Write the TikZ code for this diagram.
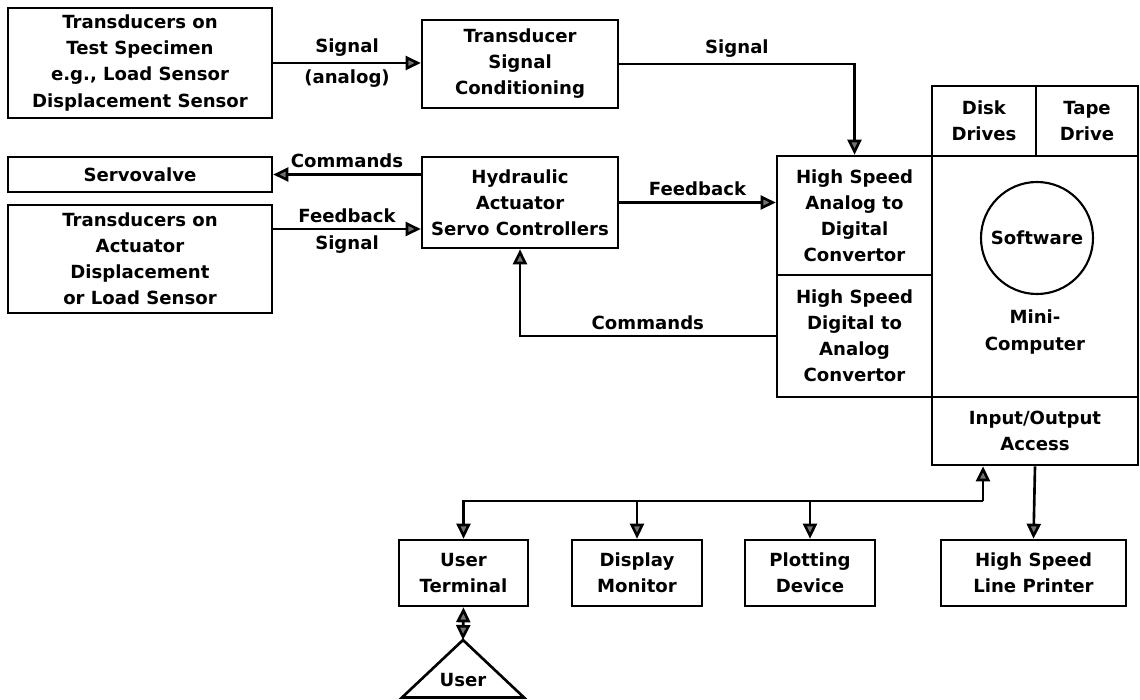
\documentclass[tikz,border=0pt]{standalone}
\usepackage{fontspec}
\setmainfont{DejaVu Sans}
\usetikzlibrary{arrows.meta}

\begin{document}
\begin{tikzpicture}[
	font=\bfseries\fontsize{10.3}{14.8}\selectfont,
	>={Triangle[length=3mm,width=2.8mm,fill=black!55]},
	blk/.style={draw,line width=1.5pt,align=center,inner sep=0pt},
	arr/.style={line width=1.5pt,->},
	lbl/.style={inner sep=3pt}
	]
	\useasboundingbox (0,0) rectangle (22.8,-14);
	% left column
	\node[blk,minimum width=5.28cm,minimum height=2.2cm] (spec) at (2.8,-1.26) {Transducers on\\Test Specimen\\e.g., Load Sensor\\Displacement Sensor};
	\node[blk,minimum width=5.28cm,minimum height=0.7cm] (servo) at (2.8,-3.49) {Servovalve};
	\node[blk,minimum width=5.28cm,minimum height=2.16cm] (act) at (2.8,-5.18) {Transducers on\\Actuator\\Displacement\\or Load Sensor};
	% middle column
	\node[blk,minimum width=3.92cm,minimum height=1.76cm] (cond) at (10.4,-1.28) {Transducer\\Signal\\Conditioning};
	\node[blk,minimum width=3.92cm,minimum height=1.82cm] (hyd) at (10.4,-4.05) {Hydraulic\\Actuator\\Servo Controllers};
	% converters and computer
	\node[blk,minimum width=3.1cm,minimum height=2.38cm] (adc) at (17.09,-4.31) {High Speed\\Analog to\\Digital\\Convertor};
	\node[blk,minimum width=3.1cm,minimum height=2.44cm] (dac) at (17.09,-6.72) {High Speed\\Digital to\\Analog\\Convertor};
	\node[blk,minimum width=2.08cm,minimum height=1.4cm] (disk) at (19.68,-2.42) {Disk\\Drives};
	\node[blk,minimum width=2.04cm,minimum height=1.4cm] (tape) at (21.74,-2.42) {Tape\\Drive};
	\node[blk,minimum width=4.12cm,minimum height=4.82cm] (mini) at (20.7,-5.53) {};
	\node[draw,circle,line width=1.2pt,minimum size=2.24cm,inner sep=0pt] (soft) at (20.74,-4.76) {Software};
	\node[align=center] (minitxt) at (20.7,-6.64) {Mini-\\Computer};
	\node[blk,minimum width=4.12cm,minimum height=1.36cm] (io) at (20.7,-8.62) {Input/Output\\Access};
	% peripherals
	\node[blk,minimum width=2.58cm,minimum height=1.32cm] (term) at (9.27,-11.46) {User\\Terminal};
	\node[blk,minimum width=2.6cm,minimum height=1.32cm] (disp) at (12.74,-11.46) {Display\\Monitor};
	\node[blk,minimum width=2.6cm,minimum height=1.32cm] (plot) at (16.2,-11.46) {Plotting\\Device};
	\node[blk,minimum width=3.7cm,minimum height=1.32cm] (prnt) at (20.67,-11.46) {High Speed\\Line Printer};
	\coordinate (apex) at (9.26,-12.8);
	\draw[line width=1.5pt] (apex) -- (8.04,-13.95) -- (10.48,-13.95) -- cycle;
	\node (user) at (9.26,-13.6) {User};
	% connections
	\draw[arr] (spec.east) --node[lbl,above]{Signal} node[lbl,below]{(analog)} (spec.east -| cond.west);
	\draw[arr] (cond.east) -| node[lbl,pos=0.25,above]{Signal} (adc.north);
	\draw[arr] (servo.east -| hyd.west) --node[lbl,above]{Commands} (servo.east);
	\draw[arr] ([yshift=0.6cm]act.east) --node[lbl,above]{Feedback} node[lbl,below]{Signal} ([yshift=0.6cm]act.east -| hyd.west);
	\draw[arr] (hyd.east) --node[lbl,above]{Feedback} (hyd.east -| adc.west);
	\draw[arr] (dac.west) -| node[lbl,pos=0.25,above]{Commands} (hyd.south);
	\coordinate (bus) at (19.66,-10.02);
	\draw[arr] (bus) -- (bus |- io.south);
	\draw[arr] (bus) -| (term.north);
	\draw[arr] (disp.north |- bus) -- (disp.north);
	\draw[arr] (plot.north |- bus) -- (plot.north);
	\draw[arr] (io.south) -- (prnt.north);
	\draw[arr,<->] (term.south) -- (apex);
\end{tikzpicture}
\end{document}
